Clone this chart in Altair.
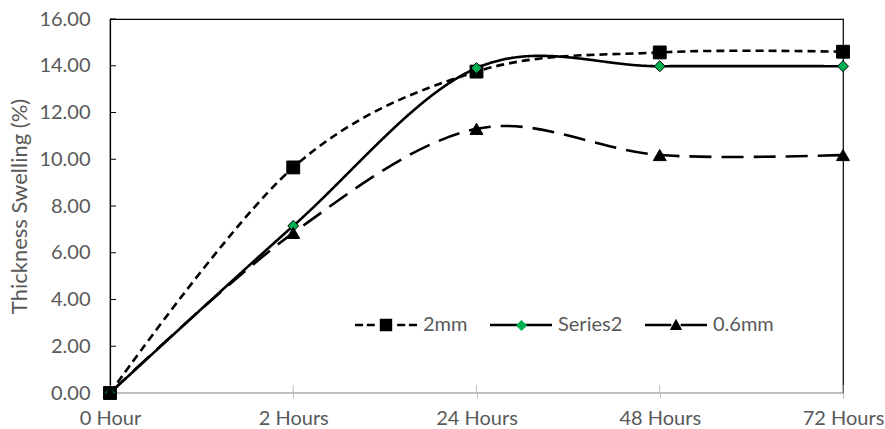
import altair as alt
import pandas as pd

# ---- data ----
categories = ["0 Hour", "2 Hours", "24 Hours", "48 Hours", "72 Hours"]
series_names = ["2mm", "Series2", "0.6mm"]
values_2mm = [0.0, 9.65, 13.75, 14.57, 14.60]
values_series2 = [0.0, 7.15, 13.90, 13.98, 13.98]
values_06mm = [0.0, 6.85, 11.30, 10.18, 10.18]
y_tick_values = [0, 2, 4, 6, 8, 10, 12, 14, 16]

rows = []
for name, vals in zip(series_names, [values_2mm, values_series2, values_06mm]):
    for c, v in zip(categories, vals):
        rows.append({"x": c, "series": name, "la": name, "lb": name, "v": v})
df = pd.DataFrame(rows)
df_s2 = df[df["series"] == "Series2"]
ticks_y = pd.DataFrame({"v": y_tick_values})
ticks_x = pd.DataFrame({"x": categories})

FONT = "Lato"
GRAY = "#595959"
AXGRAY = "#bfbfbf"
W, H = 733, 374

x_axis = alt.Axis(title=None, labelAngle=0, labelAlign="center", labelFont=FONT,
                  labelFontSize=20, labelColor=GRAY, domainColor=AXGRAY,
                  domainWidth=1.2, ticks=True, tickSize=5, tickColor=AXGRAY,
                  labelPadding=10, grid=False)
x_scale = alt.Scale(type="point", padding=0)
x_enc = alt.X("x:N", sort=categories, scale=x_scale, axis=x_axis)
y_axis = alt.Axis(title="Thickness Swelling (%)", values=y_tick_values, format=".2f",
                  labelFont=FONT, labelFontSize=20, labelColor=GRAY,
                  domainColor="black", domainWidth=1.2, ticks=False, tickSize=0,
                  labelPadding=20, titleFont=FONT, titleFontSize=22,
                  titleFontWeight="normal", titleColor=GRAY, titlePadding=7,
                  grid=False)
y_scale = alt.Scale(domain=[0, 16], nice=False)
y_enc = alt.Y("v:Q", scale=y_scale, axis=y_axis)

lines = alt.Chart(df).mark_line(interpolate="cardinal", color="black", strokeWidth=2.6).encode(
    x=x_enc, y=y_enc,
    strokeDash=alt.StrokeDash("series:N", scale=alt.Scale(domain=series_names,
                              range=[[8, 5], [1, 0], [22, 10]]), legend=None),
)

DIAMOND = "M0,-0.85L0.85,0L0,0.85L-0.85,0Z"
points = alt.Chart(df).mark_point(filled=True, stroke="black", strokeWidth=1, opacity=1, size=165).encode(
    x=x_enc, y=y_enc,
    shape=alt.Shape("series:N", scale=alt.Scale(domain=series_names,
                    range=["square", DIAMOND, "triangle-up"]), legend=None),
    fill=alt.Fill("series:N", scale=alt.Scale(domain=series_names,
                  range=["black", "#00b050", "black"]), legend=None),
)

# inward tick marks (Excel style)
yticks = alt.Chart(ticks_y).mark_rule(color="black", strokeWidth=1).encode(
    y=y_enc, x=alt.value(0), x2=alt.value(6))
xticks = alt.Chart(ticks_x).mark_rule(color=AXGRAY, strokeWidth=1).encode(
    x=x_enc, y=alt.value(H - 8), y2=alt.value(H))

# legend symbols built from paths
h = 0.042
def rect(a, b):
    return f"M{a},{-h}H{b}V{h}H{a}Z"

mk_square = "M-0.2,-0.2H0.2V0.2H-0.2Z"
mk_diamond = "M0,-0.18L0.18,0L0,0.18L-0.18,0Z"
mk_triangle = "M0,-0.2L0.2,0.16L-0.2,0.16Z"
path_2mm = " ".join([rect(-1, -0.74), rect(-0.62, -0.36), mk_square,
                     rect(0.36, 0.62), rect(0.74, 1)])
path_s2 = rect(-1, 1)
path_06 = " ".join([rect(-1, -0.15), mk_triangle, rect(0.15, 1)])

LEG_X, LEG_Y = 245, 275
common = dict(orient="none", legendY=LEG_Y, direction="horizontal",
              symbolSize=3844, labelOffset=6, columnPadding=22, labelFont=FONT,
              labelFontSize=20, labelColor=GRAY, padding=0, title=None,
              symbolOpacity=1)

leg_a = alt.Chart(df).mark_point(filled=True, color="black", opacity=0).encode(
    x=x_enc, y=y_enc,
    shape=alt.Shape("la:N", scale=alt.Scale(domain=series_names,
                    range=[path_2mm, path_s2, path_06]),
                    legend=alt.Legend(legendX=LEG_X, symbolFillColor="black",
                                      symbolStrokeWidth=0, **common)),
)
leg_b_legend = alt.Legend(legendX=LEG_X + 135, symbolStrokeColor="black",
                          symbolStrokeWidth=0.8, labelExpr="''", **common)
leg_b = alt.Chart(df_s2).mark_point(filled=True, stroke="black", strokeWidth=0.8, opacity=0).encode(
    x=x_enc, y=y_enc,
    shape=alt.Shape("lb:N", scale=alt.Scale(domain=["Series2"], range=[mk_diamond]),
                    legend=leg_b_legend),
    fill=alt.Fill("lb:N", scale=alt.Scale(domain=["Series2"], range=["#00b050"]),
                  legend=leg_b_legend),
)

chart = alt.layer(xticks, yticks, lines, points, leg_a, leg_b).resolve_scale(
    shape="independent", fill="independent"
).properties(
    width=W, height=H,
    autosize=alt.AutoSizeParams(type="none"),
    padding={"left": 110, "top": 19, "right": 42, "bottom": 36},
    background="white",
).configure_view(stroke="black", strokeWidth=1.2)

chart.save("out.html", embed_options={"renderer": "svg", "actions": False})
